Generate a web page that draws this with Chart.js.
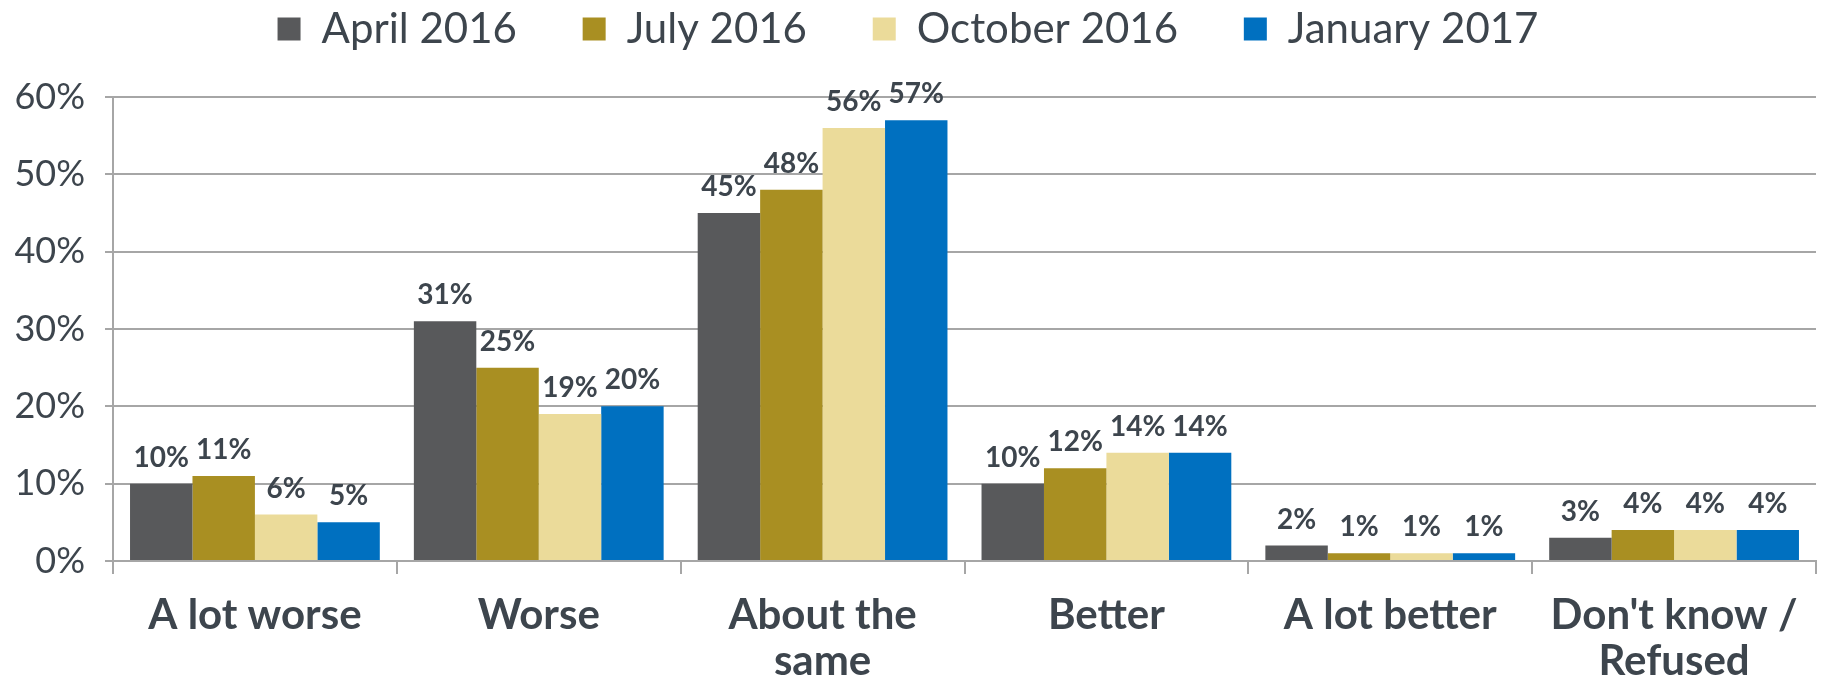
<!DOCTYPE html>
<html>
<head>
<meta charset="utf-8">
<script src="https://cdn.jsdelivr.net/npm/chart.js@4/dist/chart.umd.min.js"></script>
<style>
  html, body { margin: 0; padding: 0; background: #fff; }
  #wrap { width: 1822px; height: 684px; }
</style>
</head>
<body>
<div id="wrap"><canvas id="myChart" width="1822" height="684"></canvas></div>
<script>
var categories = ['A lot worse', 'Worse', ['About the', 'same'], 'Better', 'A lot better', ["Don't know /", 'Refused']];
var seriesNames = ['April 2016', 'July 2016', 'October 2016', 'January 2017'];
var april2016 = [10, 31, 45, 10, 2, 3];
var july2016 = [11, 25, 48, 12, 1, 4];
var october2016 = [6, 19, 56, 14, 1, 4];
var january2017 = [5, 20, 57, 14, 1, 4];
var yTicks = [0, 10, 20, 30, 40, 50, 60];

var seriesColors = ['#58595b', '#a98f22', '#ebdb9a', '#0070c0'];
var textColor = '#3d454d';
var gridColor = '#a6a6a6';

// draws the value above every bar
var valueLabels = {
    id: 'valueLabels',
    afterDatasetsDraw: function(chart) {
        var ctx = chart.ctx;
        ctx.save();
        ctx.font = 'bold 28px Lato';
        ctx.fillStyle = textColor;
        ctx.textAlign = 'center';
        ctx.textBaseline = 'bottom';
        chart.data.datasets.forEach(function(dataset, i) {
            var meta = chart.getDatasetMeta(i);
            meta.data.forEach(function(bar, j) {
                ctx.fillText(dataset.data[j] + '%', bar.x, bar.y - 12);
            });
        });
        ctx.restore();
    }
};

// keep the legend block tall enough so the plot starts where the reference does
var legendHeight = {
    id: 'legendHeight',
    beforeInit: function(chart) {
        var legend = chart.legend;
        var fit = legend.fit;
        legend.fit = function() {
            fit.call(legend);
            legend.height = 97;
        };
    }
};

document.addEventListener('DOMContentLoaded', function() {
    var ctx = document.getElementById('myChart').getContext('2d');
    var allData = [april2016, july2016, october2016, january2017];

    var myChart = new Chart(ctx, {
        type: 'bar',
        data: {
            labels: categories,
            datasets: allData.map(function(values, i) {
                return {
                    label: seriesNames[i],
                    data: values,
                    backgroundColor: seriesColors[i],
                    borderWidth: 0,
                    barPercentage: 1,
                    categoryPercentage: 0.88
                };
            })
        },
        options: {
            responsive: false,
            animation: false,
            layout: { padding: { left: 0, right: 6, top: 0, bottom: 0 } },
            plugins: {
                legend: {
                    position: 'top',
                    labels: {
                        font: { family: 'Lato', size: 42 },
                        color: textColor,
                        boxWidth: 23,
                        boxHeight: 23,
                        padding: 8,
                        generateLabels: function(chart) {
                            var items = Chart.defaults.plugins.legend.labels.generateLabels(chart);
                            items.forEach(function(item, i) {
                                if (i < items.length - 1) item.text = item.text + '\u2003\u2002\u2009';
                            });
                            return items;
                        }
                    }
                },
                tooltip: { enabled: false }
            },
            scales: {
                x: {
                    grid: {
                        drawOnChartArea: false,
                        color: gridColor,
                        lineWidth: 2,
                        tickLength: 13,
                        offset: true
                    },
                    border: { color: gridColor, width: 2 },
                    ticks: {
                        font: { family: 'Lato', size: 42, weight: 'bold', lineHeight: 1.08 },
                        color: textColor,
                        padding: 19,
                        maxRotation: 0,
                        autoSkip: false
                    },
                    afterFit: function(scale) { scale.height = 123; }
                },
                y: {
                    min: 0,
                    max: 60,
                    afterBuildTicks: function(scale) {
                        scale.ticks = yTicks.map(function(v) { return { value: v }; });
                    },
                    grid: {
                        color: gridColor,
                        lineWidth: 2,
                        tickLength: 8
                    },
                    border: { color: gridColor, width: 2 },
                    ticks: {
                        font: { family: 'Lato', size: 36 },
                        color: textColor,
                        padding: 20,
                        callback: function(v) { return v + '%'; }
                    },
                    afterFit: function(scale) { scale.width = 113; }
                }
            }
        },
        plugins: [legendHeight, valueLabels]
    });
});
</script>
</body>
</html>
